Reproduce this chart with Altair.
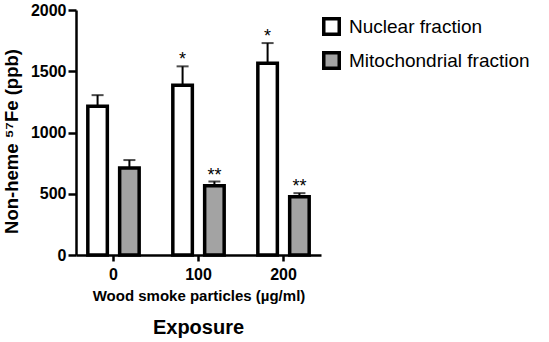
import altair as alt
import pandas as pd

exposures = ["0", "100", "200"]
fractions = ["Nuclear fraction", "Mitochondrial fraction"]
nuclear_mean = [1215, 1385, 1565]
nuclear_upper = [1305, 1540, 1730]
mito_mean = [710, 565, 475]
mito_upper = [775, 600, 505]
nuclear_sig = ["", "*", "*"]
mito_sig = ["", "**", "**"]
y_ticks = [0, 500, 1000, 1500, 2000]

rows = []
for i, e in enumerate(exposures):
    rows.append(dict(exposure=e, fraction=fractions[0], mean=nuclear_mean[i],
                     upper=nuclear_upper[i], sig=nuclear_sig[i]))
    rows.append(dict(exposure=e, fraction=fractions[1], mean=mito_mean[i],
                     upper=mito_upper[i], sig=mito_sig[i]))
df = pd.DataFrame(rows)

FONT = "Liberation Sans"

x_axis = alt.Axis(title="Wood smoke particles (µg/ml)", labelAngle=0, grid=False,
                  labelFontSize=16, labelFontWeight="bold", labelPadding=5,
                  titleFontSize=15, titleFontWeight="bold", titlePadding=6,
                  tickSize=6)
x = alt.X("exposure:N", sort=exposures,
          scale=alt.Scale(paddingInner=0.396, paddingOuter=0.139), axis=x_axis)
xo = alt.XOffset("fraction:N", sort=fractions,
                 scale=alt.Scale(paddingInner=0.387, paddingOuter=0))
y_scale = alt.Scale(domain=[0, 2000], nice=False)
y_axis = alt.Axis(values=y_ticks, format="d", grid=False,
                  title="Non-heme ⁵⁷Fe (ppb)", titleY=131,
                  labelFontSize=16, labelFontWeight="bold", labelPadding=2,
                  titleFontSize=18.5, titleFontWeight="bold", titlePadding=9,
                  tickSize=8)

base = alt.Chart(df)

err = base.mark_rule(color="black", strokeWidth=2).encode(
    x=x, xOffset=xo, y=alt.Y("mean:Q", scale=y_scale, axis=y_axis), y2="upper:Q")
cap = base.mark_tick(color="black", thickness=2, size=12).encode(
    x=x, xOffset=xo, y=alt.Y("upper:Q", scale=y_scale, axis=y_axis))
bars = base.mark_bar(stroke="black", strokeWidth=3.5).encode(
    x=x, xOffset=xo, y=alt.Y("mean:Q", scale=y_scale, axis=y_axis),
    fill=alt.Fill("fraction:N", sort=fractions,
                  scale=alt.Scale(domain=fractions, range=["#ffffff", "#a3a3a3"]),
                  legend=alt.Legend(title=None, orient="none", legendX=246, legendY=7,
                                    symbolType="square", symbolSize=240,
                                    symbolStrokeColor="black", symbolStrokeWidth=3.5,
                                    labelFontSize=19, labelOffset=8, rowPadding=3,
                                    labelLimit=400,
                                    labelFont=FONT, labelColor="black")))
stars = base.mark_text(fontSize=18, baseline="alphabetic", dy=-1, color="black",
                       font=FONT).encode(
    x=x, xOffset=xo, y=alt.Y("upper:Q", scale=y_scale, axis=y_axis), text="sig:N")

chart = alt.layer(err, cap, bars, stars).properties(
    width=245, height=245,
    autosize=alt.AutoSizeParams(type="none"),
    padding={"left": 76, "top": 10, "right": 228, "bottom": 87},
    title=alt.TitleParams(text="Exposure", orient="bottom", fontSize=20,
                          fontWeight="bold", font=FONT, offset=15,
                          anchor="middle", color="black"),
).configure(
    background="white",
    view=alt.ViewConfig(stroke="transparent", strokeWidth=0, strokeOpacity=0),
    style={"cell": {"stroke": "transparent", "strokeWidth": 0, "strokeOpacity": 0}},
    axis=alt.AxisConfig(grid=False, domainColor="black", domainWidth=2.5,
                        tickColor="black", tickWidth=2.5, labelColor="black",
                        titleColor="black", labelFont=FONT, titleFont=FONT),
)

chart.save("out.html", embed_options={"renderer": "svg", "actions": False})
